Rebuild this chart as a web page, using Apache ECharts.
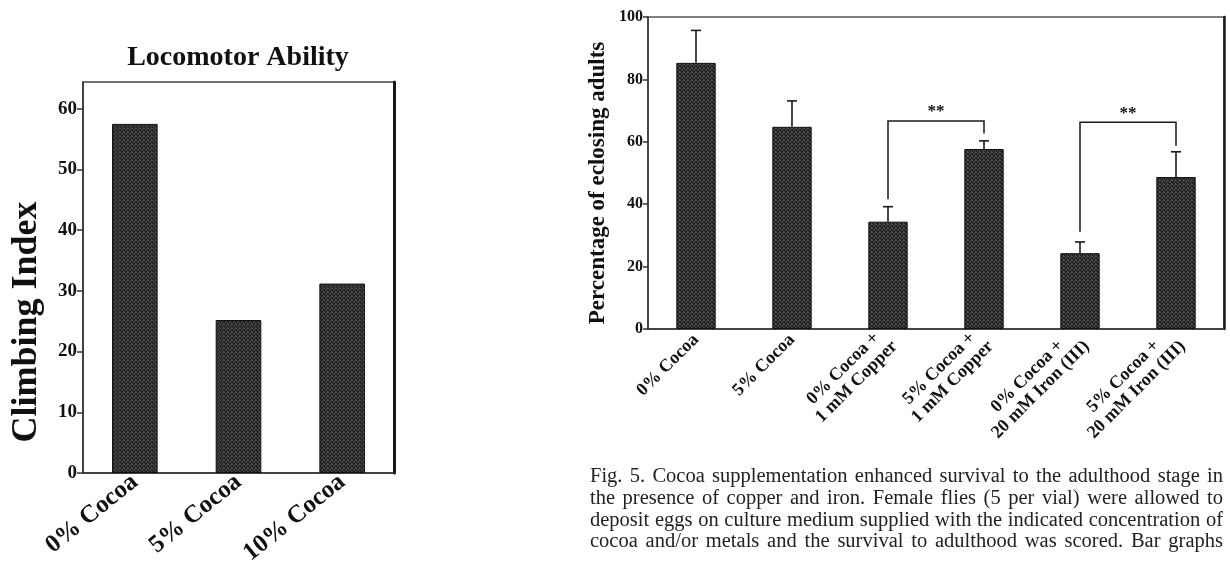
<!DOCTYPE html>
<html><head><meta charset="utf-8">
<script src="https://cdn.jsdelivr.net/npm/echarts@6/dist/echarts.min.js"></script>
<style>html,body{margin:0;padding:0;background:#fff}#c{width:1230px;height:565px}</style>
</head><body><div id="c"></div>
<script>
// ---- data ----
const locoTitle = 'Locomotor Ability';
const locoYName = 'Climbing Index';
const locoCategories = ['0% Cocoa', '5% Cocoa', '10% Cocoa'];
const locoValues = [57.5, 25.2, 31.2];
const locoTicks = [0, 10, 20, 30, 40, 50, 60];

const eclYName = 'Percentage of eclosing adults';
const eclCategories = ['0% Cocoa', '5% Cocoa', '0% Cocoa +\n1 mM Copper', '5% Cocoa +\n1 mM Copper', '0% Cocoa +\n20 mM Iron (III)', '5% Cocoa +\n20 mM Iron (III)'];
const eclMeans = [85.3, 64.8, 34.4, 57.7, 24.3, 48.7];
const eclErrors = [10.4, 8.3, 4.8, 2.6, 3.6, 8.1];
const eclTicks = [0, 20, 40, 60, 80, 100];
const bracketFrom = [2, 4];
const bracketTo = [3, 5];
const bracketTop = [66.7, 66.3];
const bracketLegLeft = [41.6, 31.2];
const bracketLegRight = [62.7, 58.7];
const bracketLabels = ['**', '**'];

const captionLines = [
  'Fig. 5. Cocoa supplementation enhanced survival to the adulthood stage in',
  'the presence of copper and iron. Female flies (5 per vial) were allowed to',
  'deposit eggs on culture medium supplied with the indicated concentration of',
  'cocoa and/or metals and the survival to adulthood was scored. Bar graphs'
];

// ---- styling helpers ----
const SERIF = "'Liberation Serif', 'Times New Roman', serif";
function makePattern() {
  const c = document.createElement('canvas');
  c.width = 4; c.height = 4;
  const g = c.getContext('2d');
  g.fillStyle = '#232323'; g.fillRect(0, 0, 4, 4);
  g.fillStyle = '#555';
  [[0, 0], [2, 1], [1, 2], [3, 3], [3, 0]].forEach(p => g.fillRect(p[0], p[1], 1, 1));
  return c;
}
const barFill = { image: makePattern(), repeat: 'repeat' };

// caption layout (justified)
const capFont = '20.5px ' + SERIF;
const capLeft = 590, capRight = 1223;
const capY = [477, 499, 520.5, 542];
const meas = document.createElement('canvas').getContext('2d');
meas.font = capFont;
const captionGraphics = [];
captionLines.forEach((line, li) => {
  const words = line.split(' ');
  const widths = words.map(w => meas.measureText(w).width);
  const total = widths.reduce((a, b) => a + b, 0);
  const gap = (capRight - capLeft - total) / (words.length - 1);
  let x = capLeft;
  words.forEach((w, wi) => {
    captionGraphics.push({ type: 'text', x: x, y: capY[li], style: { text: w, font: capFont, fill: '#222', verticalAlign: 'middle' } });
    x += widths[wi] + gap;
  });
});

const chart = echarts.init(document.getElementById('c'), null, { renderer: 'canvas' });
const axisLineStyle = { color: '#333', width: 1.5 };

chart.setOption({
  animation: false,
  backgroundColor: '#fff',
  grid: [
    { left: 83, top: 82, width: 311, height: 391, show: true, borderColor: '#444', borderWidth: 1.5, outerBoundsMode: 'none', containLabel: false },
    { left: 648, top: 17, width: 576, height: 312, show: true, borderColor: '#555', borderWidth: 1.5, outerBoundsMode: 'none', containLabel: false }
  ],
  xAxis: [
    { gridIndex: 0, type: 'category', data: locoCategories,
      axisLine: { lineStyle: axisLineStyle }, axisTick: { lineStyle: axisLineStyle, length: 6 },
      axisLabel: { rotate: 39, margin: 6, fontFamily: SERIF, fontWeight: 'bold', fontSize: 25, color: '#111' } },
    { gridIndex: 1, type: 'category', data: eclCategories,
      axisLine: { lineStyle: axisLineStyle }, axisTick: { lineStyle: axisLineStyle, length: 5 },
      axisLabel: { rotate: 45, margin: 8, color: '#111',
        formatter: v => v.split('\n').map(s => '{c|' + s + '}').join('\n'),
        rich: { c: { align: 'center', fontFamily: SERIF, fontWeight: 'bold', fontSize: 18, lineHeight: 19, color: '#111' } } } }
  ],
  yAxis: [
    { gridIndex: 0, type: 'value', min: 0, max: 64.4, interval: 10,
      axisLine: { show: true, lineStyle: axisLineStyle },
      axisTick: { show: true, lineStyle: axisLineStyle, length: 6, customValues: locoTicks },
      splitLine: { show: false },
      axisLabel: { margin: 6, fontFamily: SERIF, fontWeight: 'bold', fontSize: 19, color: '#111', customValues: locoTicks } },
    { gridIndex: 0, type: 'value', min: 0, max: 64.4, position: 'right',
      axisLine: { show: true, lineStyle: { color: '#1a1a1a', width: 3 } }, axisTick: { show: false },
      axisLabel: { show: false }, splitLine: { show: false } },
    { gridIndex: 1, type: 'value', min: 0, max: 100, interval: 20,
      axisLine: { show: true, lineStyle: axisLineStyle },
      axisTick: { show: true, lineStyle: axisLineStyle, length: 5, customValues: eclTicks },
      splitLine: { show: false },
      axisLabel: { margin: 5, fontFamily: SERIF, fontWeight: 'bold', fontSize: 16, color: '#111', customValues: eclTicks } },
    { gridIndex: 1, type: 'value', min: 0, max: 100, position: 'right',
      axisLine: { show: true, lineStyle: { color: '#1a1a1a', width: 2.5 } }, axisTick: { show: false },
      axisLabel: { show: false }, splitLine: { show: false } }
  ],
  series: [
    { type: 'bar', xAxisIndex: 0, yAxisIndex: 0, data: locoValues, barWidth: '44%',
      itemStyle: { color: barFill, borderColor: '#111', borderWidth: 1 } },
    { type: 'bar', xAxisIndex: 1, yAxisIndex: 2, data: eclMeans, barWidth: '41%',
      itemStyle: { color: barFill, borderColor: '#111', borderWidth: 1 } },
    { type: 'custom', xAxisIndex: 1, yAxisIndex: 2, z: 5,
      data: eclMeans.map((m, i) => [i, m, m + eclErrors[i]]),
      encode: { x: 0, y: [1, 2] },
      renderItem: (params, api) => {
        const b = api.coord([api.value(0), api.value(1)]);
        const t = api.coord([api.value(0), api.value(2)]);
        const hw = 5;
        const st = { stroke: '#1a1a1a', lineWidth: 1.6 };
        return { type: 'group', children: [
          { type: 'line', shape: { x1: b[0], y1: b[1], x2: t[0], y2: t[1] }, style: st },
          { type: 'line', shape: { x1: t[0] - hw, y1: t[1], x2: t[0] + hw, y2: t[1] }, style: st }
        ] };
      } },
    { type: 'custom', xAxisIndex: 1, yAxisIndex: 2, z: 5,
      data: bracketFrom.map((f, i) => [f, bracketTo[i], bracketTop[i], bracketLegLeft[i], bracketLegRight[i]]),
      encode: { x: [0, 1], y: [2, 3, 4] },
      renderItem: (params, api) => {
        const top = api.coord([api.value(0), api.value(2)]);
        const top2 = api.coord([api.value(1), api.value(2)]);
        const l = api.coord([api.value(0), api.value(3)]);
        const r = api.coord([api.value(1), api.value(4)]);
        return { type: 'group', children: [
          { type: 'polyline', shape: { points: [[l[0], l[1]], [top[0], top[1]], [top2[0], top2[1]], [r[0], r[1]]] },
            style: { stroke: '#1a1a1a', lineWidth: 1.5, fill: null } },
          { type: 'text', x: (top[0] + top2[0]) / 2, y: top[1] - 9,
            style: { text: bracketLabels[params.dataIndex], font: 'bold 17px ' + SERIF, fill: '#111', align: 'center', verticalAlign: 'middle' } }
        ] };
      } }
  ],
  graphic: [
    { type: 'text', x: 238, y: 58, style: { text: locoTitle, font: 'bold 28px ' + SERIF, fill: '#111', align: 'center', verticalAlign: 'middle' } },
    { type: 'text', x: 27, y: 322, rotation: Math.PI / 2, style: { text: locoYName, font: 'bold 36px ' + SERIF, fill: '#111', align: 'center', verticalAlign: 'middle' } },
    { type: 'text', x: 598, y: 183, rotation: Math.PI / 2, style: { text: eclYName, font: 'bold 23px ' + SERIF, fill: '#111', align: 'center', verticalAlign: 'middle' } }
  ].concat(captionGraphics)
});
</script>
</body></html>
